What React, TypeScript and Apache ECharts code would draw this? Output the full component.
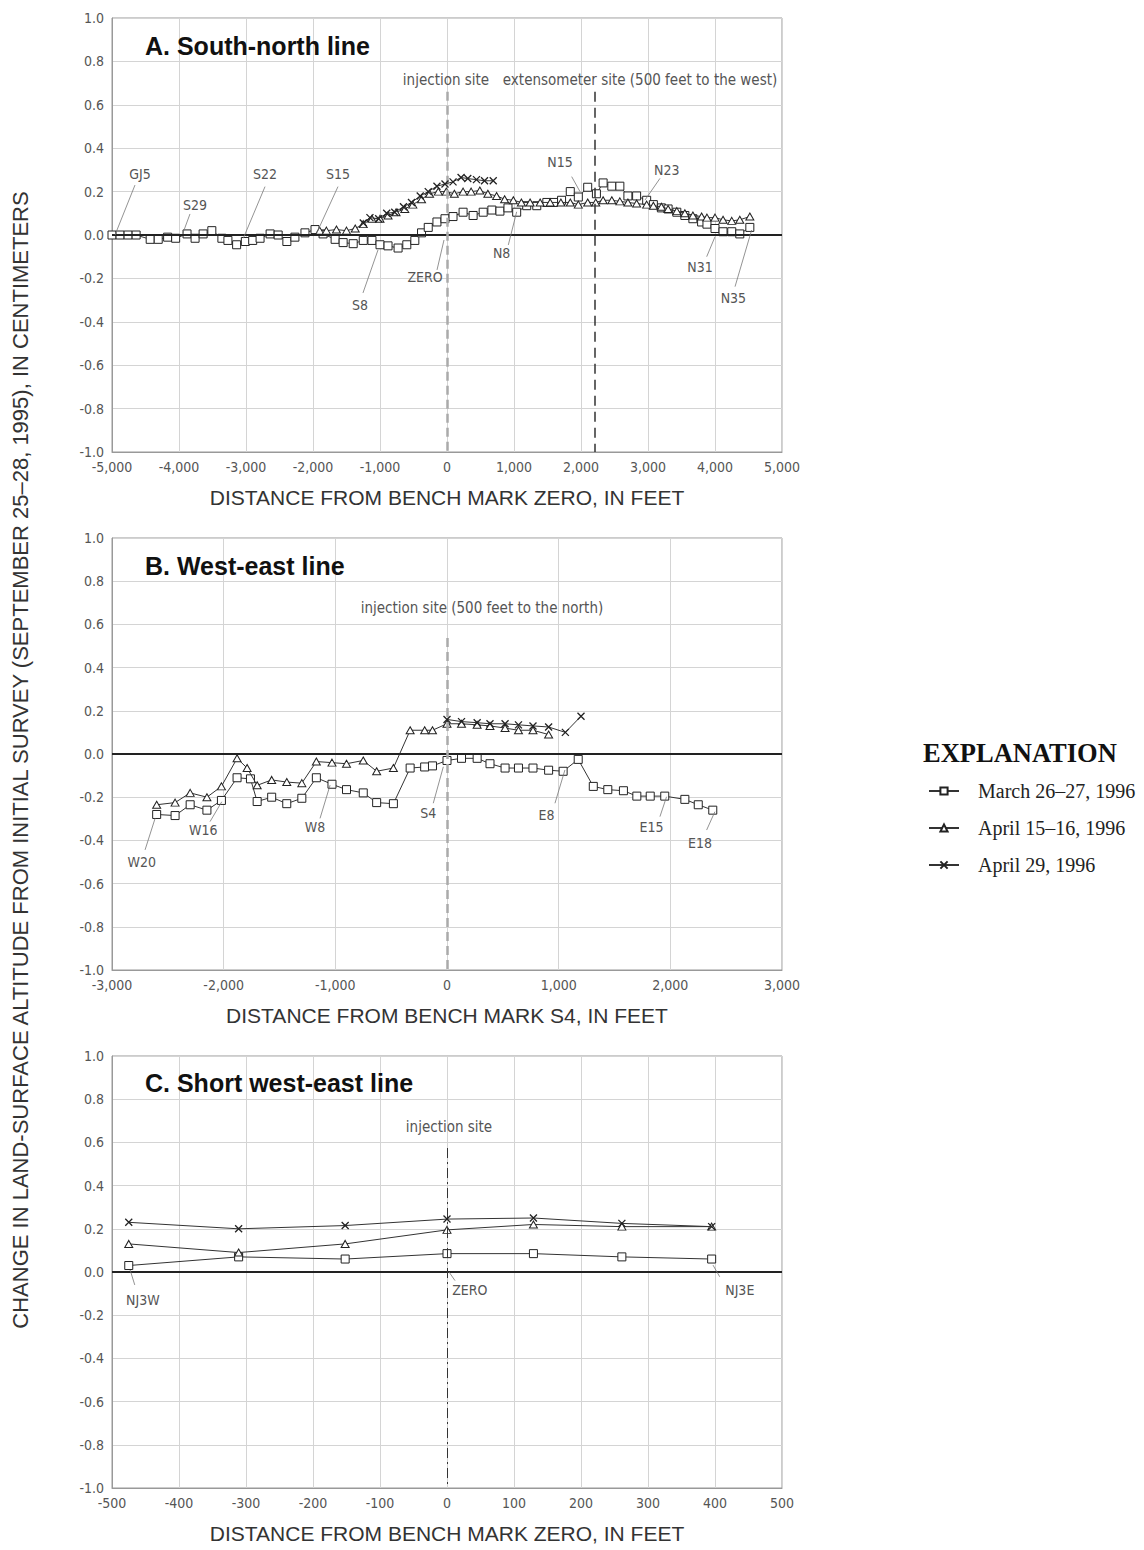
import React, { useEffect, useRef } from "react";
import * as echarts from "echarts";

const SERIES_NAMES = ["March 26–27, 1996", "April 15–16, 1996", "April 29, 1996"];

// ---------- Panel A: South-north line ----------
const aMarchX = [-5000, -4880, -4760, -4640, -4430, -4310, -4170, -4050, -3880, -3760, -3640, -3510, -3360, -3270, -3140, -3010, -2900, -2790, -2640, -2520, -2390, -2270, -2120, -1970, -1850, -1670, -1550, -1400, -1250, -1120, -1000, -880, -730, -600, -480, -380, -280, -150, -30, 90, 240, 390, 540, 670, 790, 910, 1040, 1190, 1340, 1490, 1590, 1710, 1840, 1960, 2100, 2230, 2330, 2460, 2580, 2700, 2830, 2980, 3080, 3200, 3300, 3430, 3550, 3670, 3800, 3880, 4000, 4120, 4250, 4370, 4520];
const aMarchY = [0.0, 0.0, 0.0, 0.0, -0.02, -0.02, -0.01, -0.015, 0.005, -0.015, 0.005, 0.02, -0.015, -0.025, -0.045, -0.03, -0.025, -0.015, 0.005, 0.0, -0.03, -0.01, 0.01, 0.025, 0.005, -0.02, -0.035, -0.04, -0.025, -0.025, -0.045, -0.05, -0.06, -0.045, -0.025, 0.01, 0.035, 0.06, 0.075, 0.085, 0.105, 0.09, 0.105, 0.115, 0.11, 0.125, 0.105, 0.135, 0.135, 0.15, 0.15, 0.16, 0.2, 0.175, 0.22, 0.19, 0.24, 0.225, 0.225, 0.18, 0.18, 0.16, 0.14, 0.125, 0.12, 0.105, 0.09, 0.075, 0.06, 0.05, 0.03, 0.015, 0.015, 0.005, 0.035];
const aApr15X = [-1900, -1800, -1650, -1500, -1370, -1250, -1120, -1000, -880, -760, -630, -510, -380, -260, -130, -10, 110, 240, 360, 490, 610, 740, 860, 990, 1110, 1240, 1390, 1540, 1700, 1840, 1960, 2100, 2220, 2330, 2460, 2580, 2700, 2830, 2980, 3080, 3200, 3300, 3430, 3550, 3670, 3800, 3880, 4000, 4120, 4250, 4370, 4520];
const aApr15Y = [0.02, 0.02, 0.025, 0.02, 0.03, 0.05, 0.075, 0.075, 0.09, 0.105, 0.12, 0.14, 0.165, 0.19, 0.2, 0.2, 0.19, 0.2, 0.2, 0.205, 0.19, 0.18, 0.165, 0.16, 0.15, 0.15, 0.15, 0.15, 0.15, 0.15, 0.14, 0.15, 0.15, 0.16, 0.16, 0.155, 0.15, 0.145, 0.14, 0.135, 0.13, 0.12, 0.11, 0.1, 0.09, 0.085, 0.08, 0.08, 0.07, 0.065, 0.07, 0.085];
const aApr29X = [-1250, -1150, -1020, -900, -780, -650, -530, -400, -280, -150, -30, 90, 210, 310, 440, 560, 690];
const aApr29Y = [0.055, 0.08, 0.075, 0.1, 0.105, 0.13, 0.15, 0.18, 0.2, 0.225, 0.235, 0.245, 0.265, 0.26, 0.255, 0.25, 0.25];

// ---------- Panel B: West-east line ----------
const bMarchX = [-2600, -2435, -2300, -2150, -2020, -1880, -1760, -1700, -1570, -1435, -1300, -1170, -1030, -900, -750, -630, -480, -330, -200, -130, 0, 130, 270, 385, 520, 640, 770, 910, 1040, 1175, 1310, 1440, 1580, 1700, 1820, 1950, 2130, 2250, 2380];
const bMarchY = [-0.28, -0.285, -0.235, -0.26, -0.215, -0.11, -0.115, -0.22, -0.2, -0.23, -0.205, -0.11, -0.14, -0.165, -0.18, -0.225, -0.23, -0.065, -0.06, -0.055, -0.03, -0.02, -0.02, -0.045, -0.065, -0.065, -0.065, -0.075, -0.08, -0.025, -0.15, -0.165, -0.17, -0.195, -0.195, -0.195, -0.21, -0.235, -0.26];
const bApr15X = [-2600, -2435, -2300, -2150, -2020, -1880, -1790, -1700, -1570, -1435, -1300, -1170, -1030, -900, -750, -630, -480, -330, -200, -130, 0, 130, 270, 385, 520, 640, 770, 910];
const bApr15Y = [-0.235, -0.225, -0.18, -0.2, -0.15, -0.02, -0.065, -0.145, -0.12, -0.13, -0.135, -0.035, -0.04, -0.045, -0.03, -0.08, -0.065, 0.11, 0.11, 0.11, 0.14, 0.14, 0.135, 0.13, 0.12, 0.11, 0.11, 0.09];
const bApr29X = [0, 130, 270, 385, 520, 640, 770, 910, 1060, 1200];
const bApr29Y = [0.16, 0.15, 0.145, 0.14, 0.14, 0.135, 0.13, 0.125, 0.1, 0.175];

// ---------- Panel C: Short west-east line ----------
const cX = [-475, -311, -152, 0, 129, 261, 395];
const cMarchY = [0.03, 0.07, 0.06, 0.085, 0.085, 0.07, 0.06];
const cApr15Y = [0.13, 0.09, 0.13, 0.195, 0.22, 0.21, 0.21];
const cApr29Y = [0.23, 0.2, 0.215, 0.245, 0.25, 0.225, 0.21];

// ---------- Tick settings ----------
const Y_TICKS = { min: -1, max: 1, step: 0.2 };
const X_RANGES = [
  { min: -5000, max: 5000, step: 1000 },
  { min: -3000, max: 3000, step: 1000 },
  { min: -500, max: 500, step: 100 },
];
const X_NAMES = [
  "DISTANCE FROM BENCH MARK ZERO, IN FEET",
  "DISTANCE FROM BENCH MARK S4, IN FEET",
  "DISTANCE FROM BENCH MARK ZERO, IN FEET",
];
const PANEL_TITLES = ["A. South-north line", "B. West-east line", "C. Short west-east line"];
const Y_TITLE = "CHANGE IN LAND-SURFACE ALTITUDE FROM INITIAL SURVEY (SEPTEMBER 25–28, 1995), IN CENTIMETERS";

// ---------- Annotations (data coordinates) ----------
type Note = { text: string; at: number[]; from?: number[]; to?: number[]; site?: boolean };
const aNotes: Note[] = [
  { text: "GJ5", at: [-4582, 0.281], from: [-4657, 0.23], to: [-4955, 0.0] },
  { text: "S29", at: [-3761, 0.138], from: [-3836, 0.097], to: [-3940, 0.01] },
  { text: "S22", at: [-2716, 0.281], from: [-2716, 0.223], to: [-3040, -0.015] },
  { text: "S15", at: [-1627, 0.281], from: [-1627, 0.223], to: [-1945, 0.009] },
  { text: "S8", at: [-1299, -0.323], from: [-1254, -0.267], to: [-1030, -0.069] },
  { text: "ZERO", at: [-328, -0.194], from: [-149, -0.161], to: [-45, -0.023] },
  { text: "N8", at: [816, -0.084], from: [915, -0.046], to: [1040, 0.107] },
  { text: "N15", at: [1687, 0.336], from: [1861, 0.269], to: [1985, 0.2] },
  { text: "N23", at: [3279, 0.3], from: [3179, 0.261], to: [2955, 0.161] },
  { text: "N31", at: [3776, -0.146], from: [3876, -0.1], to: [4000, -0.008] },
  { text: "N35", at: [4274, -0.292], from: [4299, -0.238], to: [4547, 0.023] },
  { text: "injection site", at: [-15, 0.714], site: true },
  { text: "extensometer site (500 feet to the west)", at: [2881, 0.714], site: true },
];
const bNotes: Note[] = [
  { text: "W20", at: [-2733, -0.498], from: [-2704, -0.444], to: [-2614, -0.298] },
  { text: "W16", at: [-2182, -0.352], from: [-2122, -0.313], to: [-2017, -0.221] },
  { text: "W8", at: [-1182, -0.336], from: [-1137, -0.298], to: [-1047, -0.144] },
  { text: "S4", at: [-167, -0.275], from: [-123, -0.228], to: [-33, -0.059] },
  { text: "E8", at: [892, -0.282], from: [967, -0.228], to: [1056, -0.074] },
  { text: "E15", at: [1832, -0.336], from: [1907, -0.29], to: [1966, -0.198] },
  { text: "E18", at: [2265, -0.413], from: [2325, -0.352], to: [2399, -0.267] },
  { text: "injection site (500 feet to the north)", at: [313, 0.676], site: true },
];
const cNotes: Note[] = [
  { text: "NJ3W", at: [-454, -0.13], from: [-466, -0.06], to: [-473, 0.01] },
  { text: "ZERO", at: [34, -0.083], from: [12, -0.04], to: [3, 0.0] },
  { text: "NJ3E", at: [437, -0.083], from: [407, -0.022], to: [397, 0.032] },
  { text: "injection site", at: [3, 0.671], site: true },
];
// vertical site lines: x, top value
const aSiteLines = [
  { x: 0, top: 0.66, kind: "gray" },
  { x: 2200, top: 0.66, kind: "black" },
];
const bSiteLines = [{ x: 0, top: 0.537, kind: "gray" }];
const cSiteLines = [{ x: 0, top: 0.574, kind: "dashdot" }];

const NARROW = "'DejaVu Sans Condensed', 'Liberation Sans Narrow', sans-serif";
const SANS = "'Liberation Sans', Arial, sans-serif";
const SERIF = "'Liberation Serif', 'Times New Roman', serif";

const zip = (xs: number[], ys: number[]) => xs.map((x, i) => [x, ys[i]]);
const fmtX = (v: number) => {
  const s = Math.abs(Math.round(v)).toLocaleString("en-US");
  return v < 0 ? "-" + s : s;
};
const fmtY = (v: number) => (Math.abs(v) < 1e-9 ? "0.0" : v.toFixed(1));

const SYMBOLS = ["rect", "triangle", "path://M0 0L10 10M10 0L0 10"];
const SYM_SIZES = [[8, 8], [8, 7], [7, 7]];

function lineSeries(i: number, panel: number, data: number[][]) {
  const isX = i === 2;
  return {
    name: SERIES_NAMES[i],
    type: "line",
    xAxisIndex: panel,
    yAxisIndex: panel,
    data,
    symbol: SYMBOLS[i],
    symbolSize: SYM_SIZES[i],
    showAllSymbol: true,
    lineStyle: { color: "#333", width: 1 },
    itemStyle: {
      color: isX ? "#222" : "#fff",
      borderColor: "#222",
      borderWidth: isX ? 1.3 : 1,
    },
    z: 3 + i,
  };
}

function helperSeries(panel: number, notes: Note[], sites: any[]) {
  const r = X_RANGES[panel];
  const lineData: any[] = [];
  lineData.push([
    { coord: [r.min, 0], lineStyle: { color: "#222", width: 2, type: "solid" } },
    { coord: [r.max, 0] },
  ]);
  sites.forEach((s) => {
    const ls =
      s.kind === "gray"
        ? { color: "#aaa", width: 2.5, type: [9, 5] }
        : s.kind === "black"
        ? { color: "#333", width: 1.5, type: [10, 6] }
        : { color: "#333", width: 1, type: [10, 4, 2, 4] };
    lineData.push([{ coord: [s.x, s.top], lineStyle: ls }, { coord: [s.x, Y_TICKS.min] }]);
  });
  notes.forEach((n) => {
    if (n.from && n.to) {
      lineData.push([
        { coord: n.from, lineStyle: { color: "#777", width: 0.8, type: "solid" } },
        { coord: n.to },
      ]);
    }
  });
  return {
    name: "annotations-" + panel,
    type: "scatter",
    xAxisIndex: panel,
    yAxisIndex: panel,
    data: [],
    silent: true,
    z: 2,
    markLine: {
      silent: true,
      symbol: ["none", "none"],
      label: { show: false },
      animation: false,
      data: lineData,
    },
    markPoint: {
      silent: true,
      symbol: "rect",
      symbolSize: 1,
      itemStyle: { color: "rgba(0,0,0,0)" },
      label: {
        show: true,
        position: "inside",
        color: "#555",
        fontFamily: NARROW,
        fontSize: 14,
        formatter: "{b}",
      },
      animation: false,
      data: notes.map((n) => ({
        name: n.text,
        coord: n.at,
        label: n.site ? { fontSize: 15 } : undefined,
      })),
    },
  };
}

export default function App() {
  const ref = useRef<HTMLDivElement>(null);
  useEffect(() => {
    document.body.style.margin = "0";
    if (!ref.current) return;
    const chart = echarts.init(ref.current, undefined, { renderer: "svg" });
    const grids = [
      { left: 112, top: 18, width: 670, height: 434 },
      { left: 112, top: 538, width: 670, height: 432 },
      { left: 112, top: 1056, width: 670, height: 432 },
    ].map((g) => ({ ...g, show: true, borderColor: "#999", borderWidth: 1, containLabel: false }));

    const xAxes = X_RANGES.map((r, i) => ({
      gridIndex: i,
      type: "value",
      min: r.min,
      max: r.max,
      interval: r.step,
      name: X_NAMES[i],
      nameLocation: "middle",
      nameGap: 35,
      nameTextStyle: { fontFamily: SANS, fontSize: 21, color: "#333" },
      axisLine: { show: true, onZero: false, lineStyle: { color: "#999" } },
      axisTick: { show: false },
      splitLine: { show: true, lineStyle: { color: "#d4d4d4", width: 1 } },
      axisLabel: {
        color: "#555",
        fontFamily: NARROW,
        fontSize: 14,
        margin: 8,
        showMinLabel: true,
        showMaxLabel: true,
        formatter: fmtX,
      },
    }));
    const yAxes = [0, 1, 2].map((i) => ({
      gridIndex: i,
      type: "value",
      min: Y_TICKS.min,
      max: Y_TICKS.max,
      interval: Y_TICKS.step,
      axisLine: { show: true, onZero: false, lineStyle: { color: "#999" } },
      axisTick: { show: false },
      splitLine: { show: true, lineStyle: { color: "#d4d4d4", width: 1 } },
      axisLabel: {
        color: "#555",
        fontFamily: NARROW,
        fontSize: 14,
        margin: 8,
        showMinLabel: true,
        showMaxLabel: true,
        formatter: fmtY,
      },
    }));

    const series: any[] = [
      lineSeries(0, 0, zip(aMarchX, aMarchY)),
      lineSeries(1, 0, zip(aApr15X, aApr15Y)),
      lineSeries(2, 0, zip(aApr29X, aApr29Y)),
      helperSeries(0, aNotes, aSiteLines),
      lineSeries(0, 1, zip(bMarchX, bMarchY)),
      lineSeries(1, 1, zip(bApr15X, bApr15Y)),
      lineSeries(2, 1, zip(bApr29X, bApr29Y)),
      helperSeries(1, bNotes, bSiteLines),
      lineSeries(0, 2, zip(cX, cMarchY)),
      lineSeries(1, 2, zip(cX, cApr15Y)),
      lineSeries(2, 2, zip(cX, cApr29Y)),
      helperSeries(2, cNotes, cSiteLines),
    ];

    const titleTops = [33, 553, 1070];
    const titles: any[] = PANEL_TITLES.map((t, i) => ({
      text: t,
      left: 145,
      top: titleTops[i],
      padding: 0,
      textStyle: { fontFamily: SANS, fontWeight: "bold", fontSize: 25, color: "#111" },
    }));
    titles.push({
      text: "EXPLANATION",
      left: 923,
      top: 739,
      padding: 0,
      textStyle: { fontFamily: SERIF, fontWeight: "bold", fontSize: 26.5, color: "#111" },
    });

    chart.setOption({
      animation: false,
      backgroundColor: "#fff",
      title: titles,
      grid: grids,
      xAxis: xAxes,
      yAxis: yAxes,
      legend: {
        data: SERIES_NAMES,
        orient: "vertical",
        left: 928,
        top: 781,
        itemWidth: 30,
        itemHeight: 9,
        itemGap: 17,
        padding: 0,
        textStyle: { fontFamily: SERIF, fontSize: 20, color: "#222", padding: [0, 0, 0, 14] },
        selectedMode: false,
      },
      graphic: [
        {
          type: "text",
          x: 20,
          y: 760,
          rotation: Math.PI / 2,
          style: {
            text: Y_TITLE,
            fontFamily: SANS,
            fontSize: 22,
            fill: "#333",
            align: "center",
            verticalAlign: "middle",
            textAlign: "center",
            textVerticalAlign: "middle",
          },
        },
      ],
      series,
    });
    return () => chart.dispose();
  }, []);
  return <div ref={ref} style={{ width: 1144, height: 1550 }} />;
}
